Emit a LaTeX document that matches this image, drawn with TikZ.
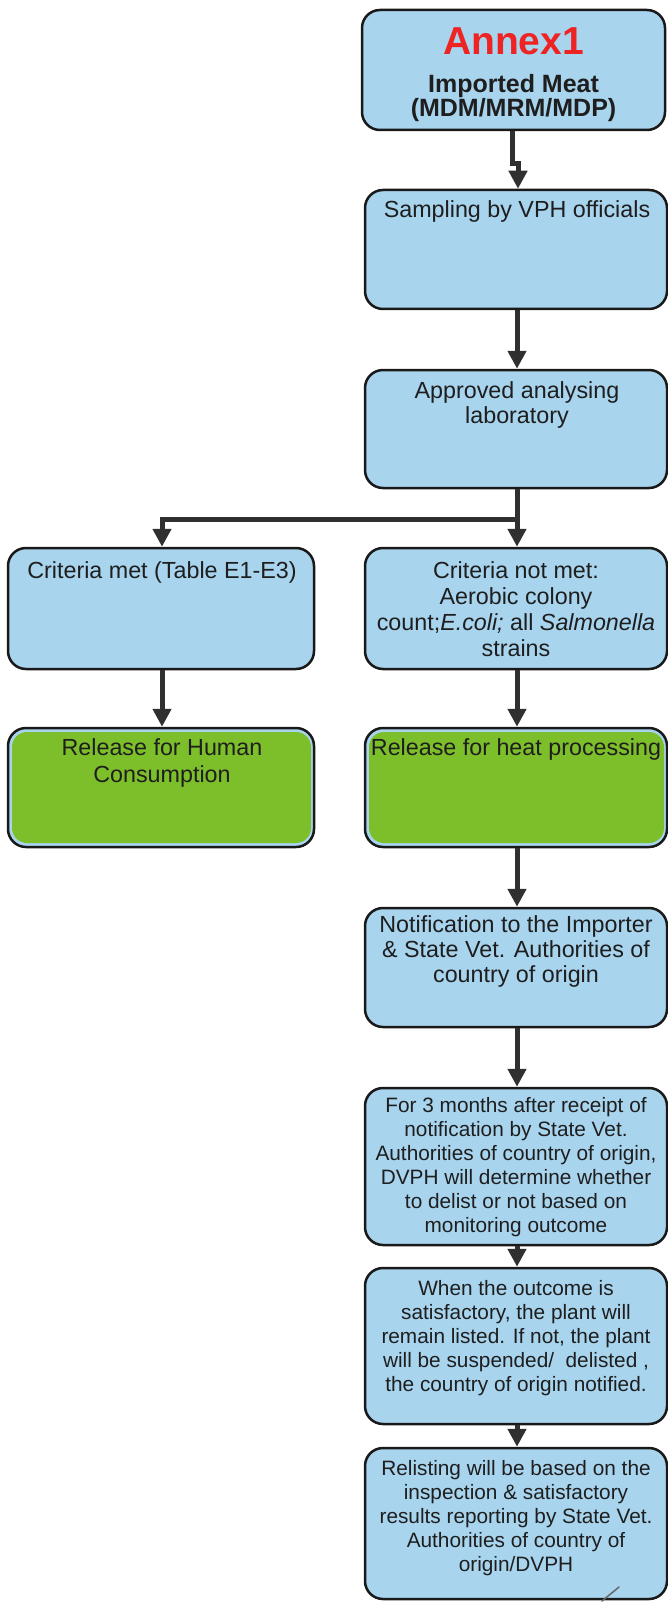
\documentclass[tikz,border=0pt]{standalone}
\usepackage{fontspec}
\setmainfont{Liberation Sans}
\usetikzlibrary{arrows.meta}
\definecolor{boxblue}{RGB}{168,212,238}
\definecolor{boxgreen}{RGB}{125,191,42}
\definecolor{arrowgray}{RGB}{48,48,48}
\definecolor{annexred}{RGB}{238,36,36}
\definecolor{txtcol}{RGB}{30,30,30}
\begin{document}
\begin{tikzpicture}[x=1pt,y=-1pt,
  box/.style={draw=black!90, line width=2.5pt, fill=boxblue, rounded corners=18pt, inner sep=0pt},
  greenfill/.style={fill=boxgreen, rounded corners=15pt},
  txt/.style={anchor=north, align=center, inner sep=0pt, text=txtcol, font=\fontsize{23.3}{25.5}\selectfont},
  smalltxt/.style={txt, font=\fontsize{20.8}{24}\selectfont},
  flow/.style={draw=arrowgray, line width=5pt, -{Triangle[length=18pt,width=18pt]}},
]
\useasboundingbox (0,0) rectangle (668,1602);

% boxes
\node[box, minimum width=303pt, minimum height=120pt] (title) at (513.5,70) {};
\node[box, minimum width=302pt, minimum height=119pt] (samp) at (516,249.5) {};
\node[box, minimum width=302pt, minimum height=118pt] (lab) at (516,429) {};
\node[box, minimum width=306pt, minimum height=121pt] (met) at (161,608.5) {};
\node[box, minimum width=302pt, minimum height=121pt] (notmet) at (516,608.5) {};
\node[box, minimum width=306pt, minimum height=119pt] (hum) at (161,787.5) {};
\node[box, minimum width=302pt, minimum height=119pt] (heat) at (516,787.5) {};
\node[box, minimum width=302pt, minimum height=119pt] (notif) at (516,967.5) {};
\node[box, minimum width=302pt, minimum height=157pt] (months) at (516,1166.5) {};
\node[box, minimum width=302pt, minimum height=156pt] (outcome) at (516,1346) {};
\node[box, minimum width=302pt, minimum height=151pt] (relist) at (516,1523.5) {};

% green fills inside the release boxes
\path[greenfill] (12,732) rectangle (311,843);
\path[greenfill] (369,732) rectangle (664,843);

% texts
\node[txt, text=annexred, font=\fontsize{39}{40}\selectfont\bfseries] (ttitle) at (513.5,27) {Annex1};
\node[txt, font=\fontsize{25}{23}\selectfont\bfseries] (tsub) at (513.5,74) {Imported Meat\\(MDM/MRM/MDP)};
\node[txt] (tsamp) at (517,200) {Sampling by VPH officials};
\node[txt] (tlab) at (517,381) {Approved analysing\\laboratory};
\node[txt] (tmet) at (162,561) {Criteria met (Table E1-E3)};
\node[txt, font=\fontsize{23.3}{26}\selectfont] (tnotmet) at (516,561) {Criteria not met:\\Aerobic colony\\count;\textit{E.coli;} all \textit{Salmonella}\\strains};
\node[txt, font=\fontsize{23.3}{27}\selectfont] (thum) at (162,738) {Release for Human\\Consumption};
\node[txt] (theat) at (516,738) {Release for heat processing};
\node[txt, font=\fontsize{23.3}{25}\selectfont] (tnotif) at (516,915) {Notification to the Importer\\\& State Vet. Authorities of\\country of origin};
\node[smalltxt] (tmonths) at (516,1097) {For 3 months after receipt of\\notification by State Vet.\\Authorities of country of origin,\\DVPH will determine whether\\to delist or not based on\\monitoring outcome};
\node[smalltxt] (toutcome) at (516,1280) {When the outcome is\\satisfactory, the plant will\\remain listed. If not, the plant\\will be suspended/\ \ delisted ,\\the country of origin notified.};
\node[smalltxt] (trelist) at (516,1460) {Relisting will be based on the\\inspection \& satisfactory\\results reporting by State Vet.\\Authorities of country of\\origin/DVPH};

% connectors
\draw[flow] ([xshift=-1.5pt]title.south) -- ++(0,32) -- ++(6,0) -- ([xshift=2pt]samp.north);
\draw[flow] ([xshift=1pt]samp.south) -- ([xshift=1pt]lab.north);
\draw[flow] ([xshift=1pt]lab.south) -- ([xshift=1pt]notmet.north);
\draw[flow] ([xshift=1pt]lab.south) -- ++(0,30) -| ([xshift=1pt]met.north);
\draw[flow] ([xshift=1pt]met.south) -- ([xshift=1pt]hum.north);
\draw[flow] ([xshift=1pt]notmet.south) -- ([xshift=1pt]heat.north);
\draw[flow] ([xshift=1pt]heat.south) -- ([xshift=1pt]notif.north);
\draw[flow] ([xshift=1pt]notif.south) -- ([xshift=1pt]months.north);
\draw[flow] ([xshift=1pt]months.south) -- ([xshift=1pt]outcome.north);
\draw[flow] ([xshift=1pt]outcome.south) -- ([xshift=1pt]relist.north);

% pen stroke at the bottom
\draw[black!60, line width=1.5pt, line cap=round] (602,1601) -- (619,1587);
\end{tikzpicture}
\end{document}
